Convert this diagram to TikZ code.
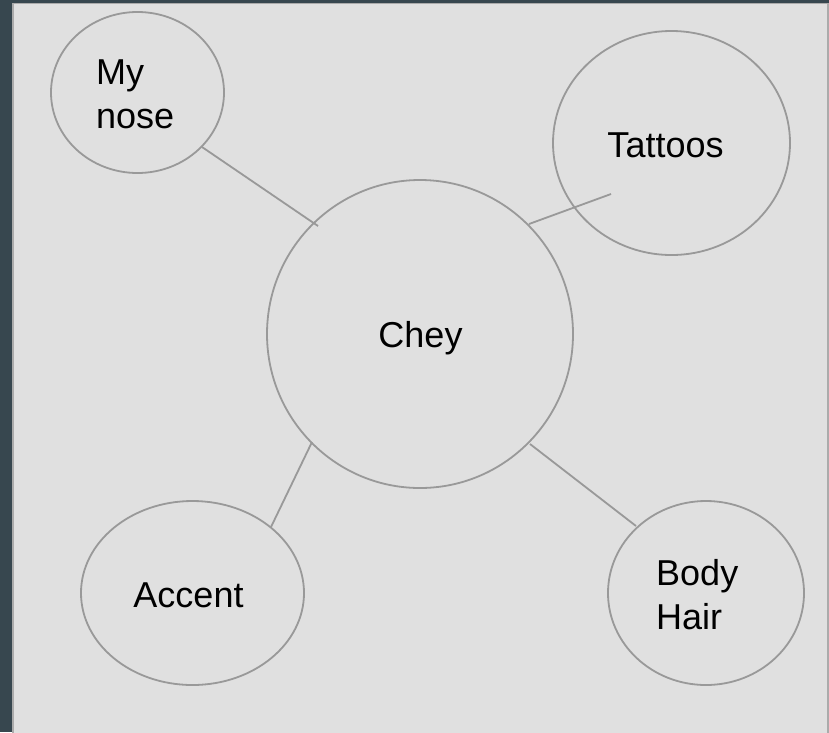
\documentclass[tikz,border=0pt]{standalone}
\usepackage{fontspec}
\setmainfont{Liberation Sans}
\usetikzlibrary{shapes.geometric}
\definecolor{bgdark}{HTML}{37474F}
\definecolor{panelfill}{HTML}{E0E0E0}
\definecolor{panelborder}{HTML}{ABABAB}
\definecolor{linegray}{HTML}{999999}
\tikzset{
  bubble/.style={ellipse, draw=linegray, line width=1.8pt, inner sep=0pt},
  lbl/.style={inner sep=0pt, font=\fontsize{36}{44}\selectfont, text=black},
  link/.style={draw=linegray, line width=1.8pt}
}
\begin{document}
\begin{tikzpicture}[x=1pt, y=-1pt]
\useasboundingbox (0,0) rectangle (829,732);
\fill[bgdark] (0,0) rectangle (829,732);
\draw[fill=panelfill, draw=panelborder, line width=1.5pt] (13,3.5) rectangle (828,736);

\node[bubble, minimum width=173pt, minimum height=161pt] (nose) at (137.5,92.5) {};
\node[bubble, minimum width=237pt, minimum height=224pt] (tattoos) at (671.5,143) {};
\node[bubble, minimum width=306pt, minimum height=308pt] (chey) at (420,334) {};
\node[bubble, minimum width=223pt, minimum height=184pt] (accent) at (192.5,593) {};
\node[bubble, minimum width=196pt, minimum height=184pt] (body) at (706,593) {};

\node[lbl, anchor=base west, align=left] (noseL) at (96,128) {My\\nose};
\node[lbl, anchor=base] (tattoosL) at (665.5,157) {Tattoos};
\node[lbl, anchor=base] (cheyL) at (420.5,347) {Chey};
\node[lbl, anchor=base] (accentL) at (188.5,607) {Accent};
\node[lbl, anchor=base west, align=left] (bodyL) at (656,629) {Body\\Hair};

\coordinate (a1) at (202,147);
\coordinate (a2) at (318,226);
\coordinate (b1) at (529,224);
\coordinate (b2) at (611,194);
\coordinate (c1) at (312,442);
\coordinate (c2) at (271,527);
\coordinate (d1) at (530,444);
\coordinate (d2) at (636,526);
\draw[link] (a1) -- (a2);
\draw[link] (b1) -- (b2);
\draw[link] (c1) -- (c2);
\draw[link] (d1) -- (d2);
\end{tikzpicture}
\end{document}
